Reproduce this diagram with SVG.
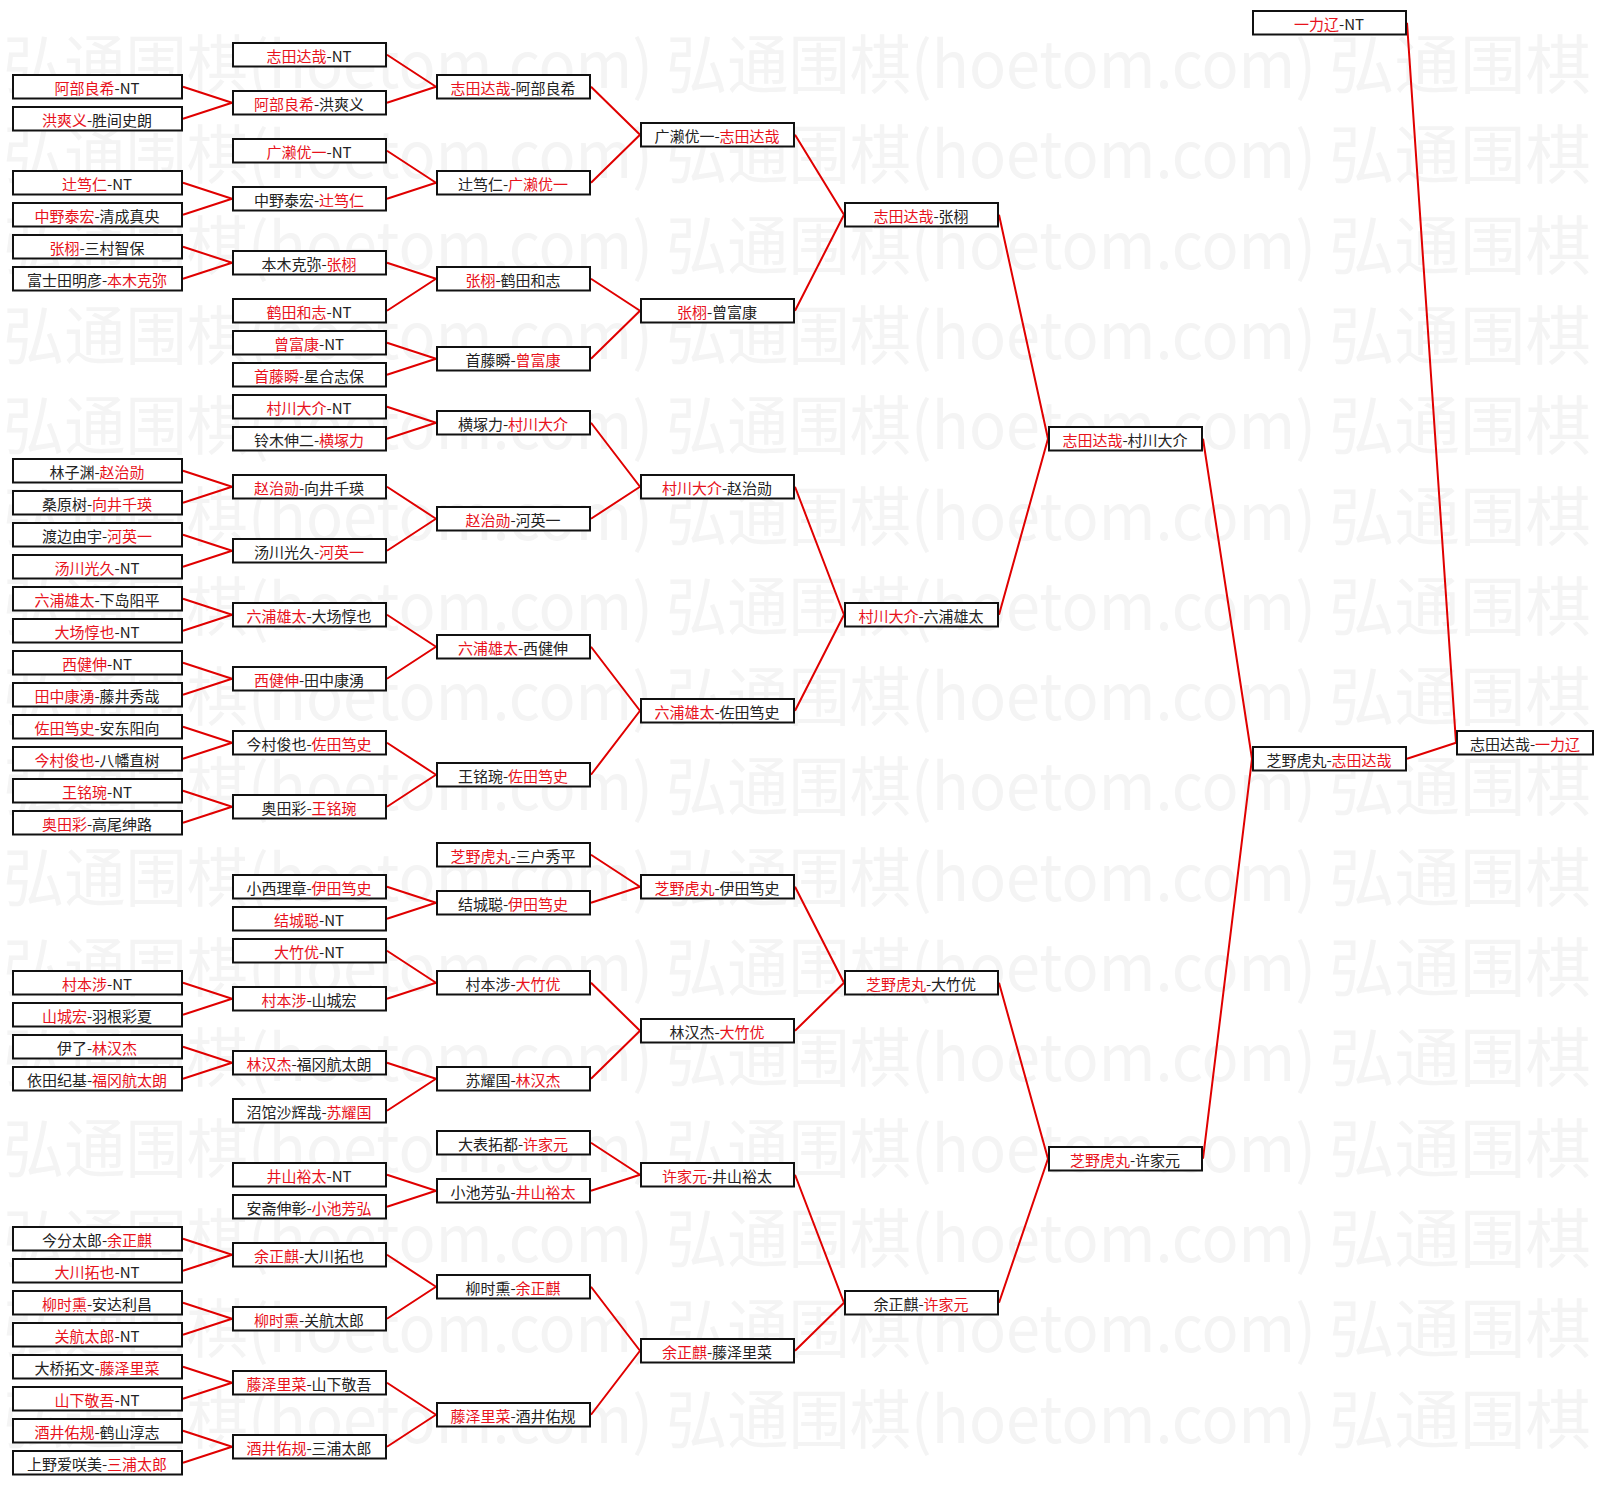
<svg xmlns="http://www.w3.org/2000/svg" width="1605" height="1485" viewBox="0 0 1605 1485">
<style>
.bg{fill:#fff}
.b{fill:#fff;stroke:#111;stroke-width:2}
.t{font-family:"Noto Sans CJK SC","Noto Sans CJK JP",sans-serif;font-size:15px;fill:#222;text-anchor:middle}
.r{fill:#e8121c}
.c{fill:none;stroke:#e00000;stroke-width:2;stroke-linejoin:round}
.wm{font-family:"Noto Sans CJK SC","Noto Sans CJK JP",sans-serif;font-size:64px;fill:#f4f4f4}
</style>
<rect class="bg" x="0" y="0" width="1605" height="1485"/>
<g id="watermark">
<text class="wm" x="3" y="88" textLength="650" lengthAdjust="spacingAndGlyphs">弘通围棋(hoetom.com)</text><text class="wm" x="666" y="88" textLength="650" lengthAdjust="spacingAndGlyphs">弘通围棋(hoetom.com)</text><text class="wm" x="1329" y="88" textLength="262" lengthAdjust="spacingAndGlyphs">弘通围棋</text>
<text class="wm" x="3" y="178.3" textLength="650" lengthAdjust="spacingAndGlyphs">弘通围棋(hoetom.com)</text><text class="wm" x="666" y="178.3" textLength="650" lengthAdjust="spacingAndGlyphs">弘通围棋(hoetom.com)</text><text class="wm" x="1329" y="178.3" textLength="262" lengthAdjust="spacingAndGlyphs">弘通围棋</text>
<text class="wm" x="3" y="268.6" textLength="650" lengthAdjust="spacingAndGlyphs">弘通围棋(hoetom.com)</text><text class="wm" x="666" y="268.6" textLength="650" lengthAdjust="spacingAndGlyphs">弘通围棋(hoetom.com)</text><text class="wm" x="1329" y="268.6" textLength="262" lengthAdjust="spacingAndGlyphs">弘通围棋</text>
<text class="wm" x="3" y="358.9" textLength="650" lengthAdjust="spacingAndGlyphs">弘通围棋(hoetom.com)</text><text class="wm" x="666" y="358.9" textLength="650" lengthAdjust="spacingAndGlyphs">弘通围棋(hoetom.com)</text><text class="wm" x="1329" y="358.9" textLength="262" lengthAdjust="spacingAndGlyphs">弘通围棋</text>
<text class="wm" x="3" y="449.2" textLength="650" lengthAdjust="spacingAndGlyphs">弘通围棋(hoetom.com)</text><text class="wm" x="666" y="449.2" textLength="650" lengthAdjust="spacingAndGlyphs">弘通围棋(hoetom.com)</text><text class="wm" x="1329" y="449.2" textLength="262" lengthAdjust="spacingAndGlyphs">弘通围棋</text>
<text class="wm" x="3" y="539.5" textLength="650" lengthAdjust="spacingAndGlyphs">弘通围棋(hoetom.com)</text><text class="wm" x="666" y="539.5" textLength="650" lengthAdjust="spacingAndGlyphs">弘通围棋(hoetom.com)</text><text class="wm" x="1329" y="539.5" textLength="262" lengthAdjust="spacingAndGlyphs">弘通围棋</text>
<text class="wm" x="3" y="629.8" textLength="650" lengthAdjust="spacingAndGlyphs">弘通围棋(hoetom.com)</text><text class="wm" x="666" y="629.8" textLength="650" lengthAdjust="spacingAndGlyphs">弘通围棋(hoetom.com)</text><text class="wm" x="1329" y="629.8" textLength="262" lengthAdjust="spacingAndGlyphs">弘通围棋</text>
<text class="wm" x="3" y="720.1" textLength="650" lengthAdjust="spacingAndGlyphs">弘通围棋(hoetom.com)</text><text class="wm" x="666" y="720.1" textLength="650" lengthAdjust="spacingAndGlyphs">弘通围棋(hoetom.com)</text><text class="wm" x="1329" y="720.1" textLength="262" lengthAdjust="spacingAndGlyphs">弘通围棋</text>
<text class="wm" x="3" y="810.4" textLength="650" lengthAdjust="spacingAndGlyphs">弘通围棋(hoetom.com)</text><text class="wm" x="666" y="810.4" textLength="650" lengthAdjust="spacingAndGlyphs">弘通围棋(hoetom.com)</text><text class="wm" x="1329" y="810.4" textLength="262" lengthAdjust="spacingAndGlyphs">弘通围棋</text>
<text class="wm" x="3" y="900.7" textLength="650" lengthAdjust="spacingAndGlyphs">弘通围棋(hoetom.com)</text><text class="wm" x="666" y="900.7" textLength="650" lengthAdjust="spacingAndGlyphs">弘通围棋(hoetom.com)</text><text class="wm" x="1329" y="900.7" textLength="262" lengthAdjust="spacingAndGlyphs">弘通围棋</text>
<text class="wm" x="3" y="991" textLength="650" lengthAdjust="spacingAndGlyphs">弘通围棋(hoetom.com)</text><text class="wm" x="666" y="991" textLength="650" lengthAdjust="spacingAndGlyphs">弘通围棋(hoetom.com)</text><text class="wm" x="1329" y="991" textLength="262" lengthAdjust="spacingAndGlyphs">弘通围棋</text>
<text class="wm" x="3" y="1081.3" textLength="650" lengthAdjust="spacingAndGlyphs">弘通围棋(hoetom.com)</text><text class="wm" x="666" y="1081.3" textLength="650" lengthAdjust="spacingAndGlyphs">弘通围棋(hoetom.com)</text><text class="wm" x="1329" y="1081.3" textLength="262" lengthAdjust="spacingAndGlyphs">弘通围棋</text>
<text class="wm" x="3" y="1171.6" textLength="650" lengthAdjust="spacingAndGlyphs">弘通围棋(hoetom.com)</text><text class="wm" x="666" y="1171.6" textLength="650" lengthAdjust="spacingAndGlyphs">弘通围棋(hoetom.com)</text><text class="wm" x="1329" y="1171.6" textLength="262" lengthAdjust="spacingAndGlyphs">弘通围棋</text>
<text class="wm" x="3" y="1261.9" textLength="650" lengthAdjust="spacingAndGlyphs">弘通围棋(hoetom.com)</text><text class="wm" x="666" y="1261.9" textLength="650" lengthAdjust="spacingAndGlyphs">弘通围棋(hoetom.com)</text><text class="wm" x="1329" y="1261.9" textLength="262" lengthAdjust="spacingAndGlyphs">弘通围棋</text>
<text class="wm" x="3" y="1352.2" textLength="650" lengthAdjust="spacingAndGlyphs">弘通围棋(hoetom.com)</text><text class="wm" x="666" y="1352.2" textLength="650" lengthAdjust="spacingAndGlyphs">弘通围棋(hoetom.com)</text><text class="wm" x="1329" y="1352.2" textLength="262" lengthAdjust="spacingAndGlyphs">弘通围棋</text>
<text class="wm" x="3" y="1442.5" textLength="650" lengthAdjust="spacingAndGlyphs">弘通围棋(hoetom.com)</text><text class="wm" x="666" y="1442.5" textLength="650" lengthAdjust="spacingAndGlyphs">弘通围棋(hoetom.com)</text><text class="wm" x="1329" y="1442.5" textLength="262" lengthAdjust="spacingAndGlyphs">弘通围棋</text>
</g>
<g id="connectors">
<path class="c" d="M183 86.75L232 102.75L183 118.75"/>
<path class="c" d="M183 182.75L232 198.75L183 214.75"/>
<path class="c" d="M183 246.75L232 262.75L183 278.75"/>
<path class="c" d="M183 470.75L232 486.75L183 502.75"/>
<path class="c" d="M183 534.75L232 550.75L183 566.75"/>
<path class="c" d="M183 598.75L232 614.75L183 630.75"/>
<path class="c" d="M183 662.75L232 678.75L183 694.75"/>
<path class="c" d="M183 726.75L232 742.75L183 758.75"/>
<path class="c" d="M183 790.75L232 806.75L183 822.75"/>
<path class="c" d="M183 982.75L232 998.75L183 1014.75"/>
<path class="c" d="M183 1046.75L232 1062.75L183 1078.75"/>
<path class="c" d="M183 1238.75L232 1254.75L183 1270.75"/>
<path class="c" d="M183 1302.75L232 1318.75L183 1334.75"/>
<path class="c" d="M183 1366.75L232 1382.75L183 1398.75"/>
<path class="c" d="M183 1430.75L232 1446.75L183 1462.75"/>
<path class="c" d="M387 54.75L436 86.75L387 102.75"/>
<path class="c" d="M387 150.75L436 182.75L387 198.75"/>
<path class="c" d="M387 262.75L436 278.75L387 310.75"/>
<path class="c" d="M387 342.75L436 358.75L387 374.75"/>
<path class="c" d="M387 406.75L436 422.75L387 438.75"/>
<path class="c" d="M387 486.75L436 518.75L387 550.75"/>
<path class="c" d="M387 614.75L436 646.75L387 678.75"/>
<path class="c" d="M387 742.75L436 774.75L387 806.75"/>
<path class="c" d="M387 886.75L436 902.75L387 918.75"/>
<path class="c" d="M387 950.75L436 982.75L387 998.75"/>
<path class="c" d="M387 1062.75L436 1078.75L387 1110.75"/>
<path class="c" d="M387 1174.75L436 1190.75L387 1206.75"/>
<path class="c" d="M387 1254.75L436 1286.75L387 1318.75"/>
<path class="c" d="M387 1382.75L436 1414.75L387 1446.75"/>
<path class="c" d="M591 86.75L640 134.75L591 182.75"/>
<path class="c" d="M591 278.75L640 310.75L591 358.75"/>
<path class="c" d="M591 422.75L640 486.75L591 518.75"/>
<path class="c" d="M591 646.75L640 710.75L591 774.75"/>
<path class="c" d="M591 854.75L640 886.75L591 902.75"/>
<path class="c" d="M591 982.75L640 1030.75L591 1078.75"/>
<path class="c" d="M591 1142.75L640 1174.75L591 1190.75"/>
<path class="c" d="M591 1286.75L640 1350.75L591 1414.75"/>
<path class="c" d="M795 134.75L844 214.75L795 310.75"/>
<path class="c" d="M795 486.75L844 614.75L795 710.75"/>
<path class="c" d="M795 886.75L844 982.75L795 1030.75"/>
<path class="c" d="M795 1174.75L844 1302.75L795 1350.75"/>
<path class="c" d="M999 214.75L1048 438.75L999 614.75"/>
<path class="c" d="M999 982.75L1048 1158.75L999 1302.75"/>
<path class="c" d="M1203 438.75L1252 758.75L1203 1158.75"/>
<path class="c" d="M1407 22.75L1456 742.75L1407 758.75"/>
</g>
<g id="c1">
<g id="n1-2" transform="translate(12,74)"><rect class="b" x="1" y="1" width="169" height="23.5"/><text class="t" x="85" y="20"><tspan class="r">阿部良希</tspan>-NT</text></g>
<g id="n1-3" transform="translate(12,106)"><rect class="b" x="1" y="1" width="169" height="23.5"/><text class="t" x="85" y="20"><tspan class="r">洪爽义</tspan>-胜间史朗</text></g>
<g id="n1-5" transform="translate(12,170)"><rect class="b" x="1" y="1" width="169" height="23.5"/><text class="t" x="85" y="20"><tspan class="r">辻笃仁</tspan>-NT</text></g>
<g id="n1-6" transform="translate(12,202)"><rect class="b" x="1" y="1" width="169" height="23.5"/><text class="t" x="85" y="20"><tspan class="r">中野泰宏</tspan>-清成真央</text></g>
<g id="n1-7" transform="translate(12,234)"><rect class="b" x="1" y="1" width="169" height="23.5"/><text class="t" x="85" y="20"><tspan class="r">张栩</tspan>-三村智保</text></g>
<g id="n1-8" transform="translate(12,266)"><rect class="b" x="1" y="1" width="169" height="23.5"/><text class="t" x="85" y="20">富士田明彦-<tspan class="r">本木克弥</tspan></text></g>
<g id="n1-14" transform="translate(12,458)"><rect class="b" x="1" y="1" width="169" height="23.5"/><text class="t" x="85" y="20">林子渊-<tspan class="r">赵治勋</tspan></text></g>
<g id="n1-15" transform="translate(12,490)"><rect class="b" x="1" y="1" width="169" height="23.5"/><text class="t" x="85" y="20">桑原树-<tspan class="r">向井千瑛</tspan></text></g>
<g id="n1-16" transform="translate(12,522)"><rect class="b" x="1" y="1" width="169" height="23.5"/><text class="t" x="85" y="20">渡边由宇-<tspan class="r">河英一</tspan></text></g>
<g id="n1-17" transform="translate(12,554)"><rect class="b" x="1" y="1" width="169" height="23.5"/><text class="t" x="85" y="20"><tspan class="r">汤川光久</tspan>-NT</text></g>
<g id="n1-18" transform="translate(12,586)"><rect class="b" x="1" y="1" width="169" height="23.5"/><text class="t" x="85" y="20"><tspan class="r">六浦雄太</tspan>-下岛阳平</text></g>
<g id="n1-19" transform="translate(12,618)"><rect class="b" x="1" y="1" width="169" height="23.5"/><text class="t" x="85" y="20"><tspan class="r">大场惇也</tspan>-NT</text></g>
<g id="n1-20" transform="translate(12,650)"><rect class="b" x="1" y="1" width="169" height="23.5"/><text class="t" x="85" y="20"><tspan class="r">西健伸</tspan>-NT</text></g>
<g id="n1-21" transform="translate(12,682)"><rect class="b" x="1" y="1" width="169" height="23.5"/><text class="t" x="85" y="20"><tspan class="r">田中康湧</tspan>-藤井秀哉</text></g>
<g id="n1-22" transform="translate(12,714)"><rect class="b" x="1" y="1" width="169" height="23.5"/><text class="t" x="85" y="20"><tspan class="r">佐田笃史</tspan>-安东阳向</text></g>
<g id="n1-23" transform="translate(12,746)"><rect class="b" x="1" y="1" width="169" height="23.5"/><text class="t" x="85" y="20"><tspan class="r">今村俊也</tspan>-八幡直树</text></g>
<g id="n1-24" transform="translate(12,778)"><rect class="b" x="1" y="1" width="169" height="23.5"/><text class="t" x="85" y="20"><tspan class="r">王铭琬</tspan>-NT</text></g>
<g id="n1-25" transform="translate(12,810)"><rect class="b" x="1" y="1" width="169" height="23.5"/><text class="t" x="85" y="20"><tspan class="r">奥田彩</tspan>-高尾绅路</text></g>
<g id="n1-30" transform="translate(12,970)"><rect class="b" x="1" y="1" width="169" height="23.5"/><text class="t" x="85" y="20"><tspan class="r">村本涉</tspan>-NT</text></g>
<g id="n1-31" transform="translate(12,1002)"><rect class="b" x="1" y="1" width="169" height="23.5"/><text class="t" x="85" y="20"><tspan class="r">山城宏</tspan>-羽根彩夏</text></g>
<g id="n1-32" transform="translate(12,1034)"><rect class="b" x="1" y="1" width="169" height="23.5"/><text class="t" x="85" y="20">伊了-<tspan class="r">林汉杰</tspan></text></g>
<g id="n1-33" transform="translate(12,1066)"><rect class="b" x="1" y="1" width="169" height="23.5"/><text class="t" x="85" y="20">依田纪基-<tspan class="r">福冈航太朗</tspan></text></g>
<g id="n1-38" transform="translate(12,1226)"><rect class="b" x="1" y="1" width="169" height="23.5"/><text class="t" x="85" y="20">今分太郎-<tspan class="r">余正麒</tspan></text></g>
<g id="n1-39" transform="translate(12,1258)"><rect class="b" x="1" y="1" width="169" height="23.5"/><text class="t" x="85" y="20"><tspan class="r">大川拓也</tspan>-NT</text></g>
<g id="n1-40" transform="translate(12,1290)"><rect class="b" x="1" y="1" width="169" height="23.5"/><text class="t" x="85" y="20"><tspan class="r">柳时熏</tspan>-安达利昌</text></g>
<g id="n1-41" transform="translate(12,1322)"><rect class="b" x="1" y="1" width="169" height="23.5"/><text class="t" x="85" y="20"><tspan class="r">关航太郎</tspan>-NT</text></g>
<g id="n1-42" transform="translate(12,1354)"><rect class="b" x="1" y="1" width="169" height="23.5"/><text class="t" x="85" y="20">大桥拓文-<tspan class="r">藤泽里菜</tspan></text></g>
<g id="n1-43" transform="translate(12,1386)"><rect class="b" x="1" y="1" width="169" height="23.5"/><text class="t" x="85" y="20"><tspan class="r">山下敬吾</tspan>-NT</text></g>
<g id="n1-44" transform="translate(12,1418)"><rect class="b" x="1" y="1" width="169" height="23.5"/><text class="t" x="85" y="20"><tspan class="r">酒井佑规</tspan>-鹤山淳志</text></g>
<g id="n1-45" transform="translate(12,1450)"><rect class="b" x="1" y="1" width="169" height="23.5"/><text class="t" x="85" y="20">上野爱咲美-<tspan class="r">三浦太郎</tspan></text></g>
</g>
<g id="c2">
<g id="n2-1" transform="translate(232,42)"><rect class="b" x="1" y="1" width="153" height="23.5"/><text class="t" x="77" y="20"><tspan class="r">志田达哉</tspan>-NT</text></g>
<g id="n2-2h" transform="translate(232,90)"><rect class="b" x="1" y="1" width="153" height="23.5"/><text class="t" x="77" y="20"><tspan class="r">阿部良希</tspan>-洪爽义</text></g>
<g id="n2-4" transform="translate(232,138)"><rect class="b" x="1" y="1" width="153" height="23.5"/><text class="t" x="77" y="20"><tspan class="r">广濑优一</tspan>-NT</text></g>
<g id="n2-5h" transform="translate(232,186)"><rect class="b" x="1" y="1" width="153" height="23.5"/><text class="t" x="77" y="20">中野泰宏-<tspan class="r">辻笃仁</tspan></text></g>
<g id="n2-7h" transform="translate(232,250)"><rect class="b" x="1" y="1" width="153" height="23.5"/><text class="t" x="77" y="20">本木克弥-<tspan class="r">张栩</tspan></text></g>
<g id="n2-9" transform="translate(232,298)"><rect class="b" x="1" y="1" width="153" height="23.5"/><text class="t" x="77" y="20"><tspan class="r">鹤田和志</tspan>-NT</text></g>
<g id="n2-10" transform="translate(232,330)"><rect class="b" x="1" y="1" width="153" height="23.5"/><text class="t" x="77" y="20"><tspan class="r">曾富康</tspan>-NT</text></g>
<g id="n2-11" transform="translate(232,362)"><rect class="b" x="1" y="1" width="153" height="23.5"/><text class="t" x="77" y="20"><tspan class="r">首藤瞬</tspan>-星合志保</text></g>
<g id="n2-12" transform="translate(232,394)"><rect class="b" x="1" y="1" width="153" height="23.5"/><text class="t" x="77" y="20"><tspan class="r">村川大介</tspan>-NT</text></g>
<g id="n2-13" transform="translate(232,426)"><rect class="b" x="1" y="1" width="153" height="23.5"/><text class="t" x="77" y="20">铃木伸二-<tspan class="r">横塚力</tspan></text></g>
<g id="n2-14h" transform="translate(232,474)"><rect class="b" x="1" y="1" width="153" height="23.5"/><text class="t" x="77" y="20"><tspan class="r">赵治勋</tspan>-向井千瑛</text></g>
<g id="n2-16h" transform="translate(232,538)"><rect class="b" x="1" y="1" width="153" height="23.5"/><text class="t" x="77" y="20">汤川光久-<tspan class="r">河英一</tspan></text></g>
<g id="n2-18h" transform="translate(232,602)"><rect class="b" x="1" y="1" width="153" height="23.5"/><text class="t" x="77" y="20"><tspan class="r">六浦雄太</tspan>-大场惇也</text></g>
<g id="n2-20h" transform="translate(232,666)"><rect class="b" x="1" y="1" width="153" height="23.5"/><text class="t" x="77" y="20"><tspan class="r">西健伸</tspan>-田中康湧</text></g>
<g id="n2-22h" transform="translate(232,730)"><rect class="b" x="1" y="1" width="153" height="23.5"/><text class="t" x="77" y="20">今村俊也-<tspan class="r">佐田笃史</tspan></text></g>
<g id="n2-24h" transform="translate(232,794)"><rect class="b" x="1" y="1" width="153" height="23.5"/><text class="t" x="77" y="20">奥田彩-<tspan class="r">王铭琬</tspan></text></g>
<g id="n2-27" transform="translate(232,874)"><rect class="b" x="1" y="1" width="153" height="23.5"/><text class="t" x="77" y="20">小西理章-<tspan class="r">伊田笃史</tspan></text></g>
<g id="n2-28" transform="translate(232,906)"><rect class="b" x="1" y="1" width="153" height="23.5"/><text class="t" x="77" y="20"><tspan class="r">结城聪</tspan>-NT</text></g>
<g id="n2-29" transform="translate(232,938)"><rect class="b" x="1" y="1" width="153" height="23.5"/><text class="t" x="77" y="20"><tspan class="r">大竹优</tspan>-NT</text></g>
<g id="n2-30h" transform="translate(232,986)"><rect class="b" x="1" y="1" width="153" height="23.5"/><text class="t" x="77" y="20"><tspan class="r">村本涉</tspan>-山城宏</text></g>
<g id="n2-32h" transform="translate(232,1050)"><rect class="b" x="1" y="1" width="153" height="23.5"/><text class="t" x="77" y="20"><tspan class="r">林汉杰</tspan>-福冈航太朗</text></g>
<g id="n2-34" transform="translate(232,1098)"><rect class="b" x="1" y="1" width="153" height="23.5"/><text class="t" x="77" y="20">沼馆沙辉哉-<tspan class="r">苏耀国</tspan></text></g>
<g id="n2-36" transform="translate(232,1162)"><rect class="b" x="1" y="1" width="153" height="23.5"/><text class="t" x="77" y="20"><tspan class="r">井山裕太</tspan>-NT</text></g>
<g id="n2-37" transform="translate(232,1194)"><rect class="b" x="1" y="1" width="153" height="23.5"/><text class="t" x="77" y="20">安斋伸彰-<tspan class="r">小池芳弘</tspan></text></g>
<g id="n2-38h" transform="translate(232,1242)"><rect class="b" x="1" y="1" width="153" height="23.5"/><text class="t" x="77" y="20"><tspan class="r">余正麒</tspan>-大川拓也</text></g>
<g id="n2-40h" transform="translate(232,1306)"><rect class="b" x="1" y="1" width="153" height="23.5"/><text class="t" x="77" y="20"><tspan class="r">柳时熏</tspan>-关航太郎</text></g>
<g id="n2-42h" transform="translate(232,1370)"><rect class="b" x="1" y="1" width="153" height="23.5"/><text class="t" x="77" y="20"><tspan class="r">藤泽里菜</tspan>-山下敬吾</text></g>
<g id="n2-44h" transform="translate(232,1434)"><rect class="b" x="1" y="1" width="153" height="23.5"/><text class="t" x="77" y="20"><tspan class="r">酒井佑规</tspan>-三浦太郎</text></g>
</g>
<g id="c3">
<g id="n3-2" transform="translate(436,74)"><rect class="b" x="1" y="1" width="153" height="23.5"/><text class="t" x="77" y="20"><tspan class="r">志田达哉</tspan>-阿部良希</text></g>
<g id="n3-5" transform="translate(436,170)"><rect class="b" x="1" y="1" width="153" height="23.5"/><text class="t" x="77" y="20">辻笃仁-<tspan class="r">广濑优一</tspan></text></g>
<g id="n3-8" transform="translate(436,266)"><rect class="b" x="1" y="1" width="153" height="23.5"/><text class="t" x="77" y="20"><tspan class="r">张栩</tspan>-鹤田和志</text></g>
<g id="n3-10h" transform="translate(436,346)"><rect class="b" x="1" y="1" width="153" height="23.5"/><text class="t" x="77" y="20">首藤瞬-<tspan class="r">曾富康</tspan></text></g>
<g id="n3-12h" transform="translate(436,410)"><rect class="b" x="1" y="1" width="153" height="23.5"/><text class="t" x="77" y="20">横塚力-<tspan class="r">村川大介</tspan></text></g>
<g id="n3-15h" transform="translate(436,506)"><rect class="b" x="1" y="1" width="153" height="23.5"/><text class="t" x="77" y="20"><tspan class="r">赵治勋</tspan>-河英一</text></g>
<g id="n3-19h" transform="translate(436,634)"><rect class="b" x="1" y="1" width="153" height="23.5"/><text class="t" x="77" y="20"><tspan class="r">六浦雄太</tspan>-西健伸</text></g>
<g id="n3-23h" transform="translate(436,762)"><rect class="b" x="1" y="1" width="153" height="23.5"/><text class="t" x="77" y="20">王铭琬-<tspan class="r">佐田笃史</tspan></text></g>
<g id="n3-26" transform="translate(436,842)"><rect class="b" x="1" y="1" width="153" height="23.5"/><text class="t" x="77" y="20"><tspan class="r">芝野虎丸</tspan>-三户秀平</text></g>
<g id="n3-27h" transform="translate(436,890)"><rect class="b" x="1" y="1" width="153" height="23.5"/><text class="t" x="77" y="20">结城聪-<tspan class="r">伊田笃史</tspan></text></g>
<g id="n3-30" transform="translate(436,970)"><rect class="b" x="1" y="1" width="153" height="23.5"/><text class="t" x="77" y="20">村本涉-<tspan class="r">大竹优</tspan></text></g>
<g id="n3-33" transform="translate(436,1066)"><rect class="b" x="1" y="1" width="153" height="23.5"/><text class="t" x="77" y="20">苏耀国-<tspan class="r">林汉杰</tspan></text></g>
<g id="n3-35" transform="translate(436,1130)"><rect class="b" x="1" y="1" width="153" height="23.5"/><text class="t" x="77" y="20">大表拓都-<tspan class="r">许家元</tspan></text></g>
<g id="n3-36h" transform="translate(436,1178)"><rect class="b" x="1" y="1" width="153" height="23.5"/><text class="t" x="77" y="20">小池芳弘-<tspan class="r">井山裕太</tspan></text></g>
<g id="n3-39h" transform="translate(436,1274)"><rect class="b" x="1" y="1" width="153" height="23.5"/><text class="t" x="77" y="20">柳时熏-<tspan class="r">余正麒</tspan></text></g>
<g id="n3-43h" transform="translate(436,1402)"><rect class="b" x="1" y="1" width="153" height="23.5"/><text class="t" x="77" y="20"><tspan class="r">藤泽里菜</tspan>-酒井佑规</text></g>
</g>
<g id="c4">
<g id="n4-3h" transform="translate(640,122)"><rect class="b" x="1" y="1" width="153" height="23.5"/><text class="t" x="77" y="20">广濑优一-<tspan class="r">志田达哉</tspan></text></g>
<g id="n4-9" transform="translate(640,298)"><rect class="b" x="1" y="1" width="153" height="23.5"/><text class="t" x="77" y="20"><tspan class="r">张栩</tspan>-曾富康</text></g>
<g id="n4-14h" transform="translate(640,474)"><rect class="b" x="1" y="1" width="153" height="23.5"/><text class="t" x="77" y="20"><tspan class="r">村川大介</tspan>-赵治勋</text></g>
<g id="n4-21h" transform="translate(640,698)"><rect class="b" x="1" y="1" width="153" height="23.5"/><text class="t" x="77" y="20"><tspan class="r">六浦雄太</tspan>-佐田笃史</text></g>
<g id="n4-27" transform="translate(640,874)"><rect class="b" x="1" y="1" width="153" height="23.5"/><text class="t" x="77" y="20"><tspan class="r">芝野虎丸</tspan>-伊田笃史</text></g>
<g id="n4-31h" transform="translate(640,1018)"><rect class="b" x="1" y="1" width="153" height="23.5"/><text class="t" x="77" y="20">林汉杰-<tspan class="r">大竹优</tspan></text></g>
<g id="n4-36" transform="translate(640,1162)"><rect class="b" x="1" y="1" width="153" height="23.5"/><text class="t" x="77" y="20"><tspan class="r">许家元</tspan>-井山裕太</text></g>
<g id="n4-41h" transform="translate(640,1338)"><rect class="b" x="1" y="1" width="153" height="23.5"/><text class="t" x="77" y="20"><tspan class="r">余正麒</tspan>-藤泽里菜</text></g>
</g>
<g id="c5">
<g id="n5-6" transform="translate(844,202)"><rect class="b" x="1" y="1" width="153" height="23.5"/><text class="t" x="77" y="20"><tspan class="r">志田达哉</tspan>-张栩</text></g>
<g id="n5-18h" transform="translate(844,602)"><rect class="b" x="1" y="1" width="153" height="23.5"/><text class="t" x="77" y="20"><tspan class="r">村川大介</tspan>-六浦雄太</text></g>
<g id="n5-30" transform="translate(844,970)"><rect class="b" x="1" y="1" width="153" height="23.5"/><text class="t" x="77" y="20"><tspan class="r">芝野虎丸</tspan>-大竹优</text></g>
<g id="n5-40" transform="translate(844,1290)"><rect class="b" x="1" y="1" width="153" height="23.5"/><text class="t" x="77" y="20">余正麒-<tspan class="r">许家元</tspan></text></g>
</g>
<g id="c6">
<g id="n6-13" transform="translate(1048,426)"><rect class="b" x="1" y="1" width="153" height="23.5"/><text class="t" x="77" y="20"><tspan class="r">志田达哉</tspan>-村川大介</text></g>
<g id="n6-35h" transform="translate(1048,1146)"><rect class="b" x="1" y="1" width="153" height="23.5"/><text class="t" x="77" y="20"><tspan class="r">芝野虎丸</tspan>-许家元</text></g>
</g>
<g id="c7">
<g id="n7-0" transform="translate(1252,10)"><rect class="b" x="1" y="1" width="153" height="23.5"/><text class="t" x="77" y="20"><tspan class="r">一力辽</tspan>-NT</text></g>
<g id="n7-23" transform="translate(1252,746)"><rect class="b" x="1" y="1" width="153" height="23.5"/><text class="t" x="77" y="20">芝野虎丸-<tspan class="r">志田达哉</tspan></text></g>
</g>
<g id="c8">
<g id="n8-final" transform="translate(1456,730)"><rect class="b" x="1" y="1" width="136" height="23.5"/><text class="t" x="69" y="20">志田达哉-<tspan class="r">一力辽</tspan></text></g>
</g>
</svg>
